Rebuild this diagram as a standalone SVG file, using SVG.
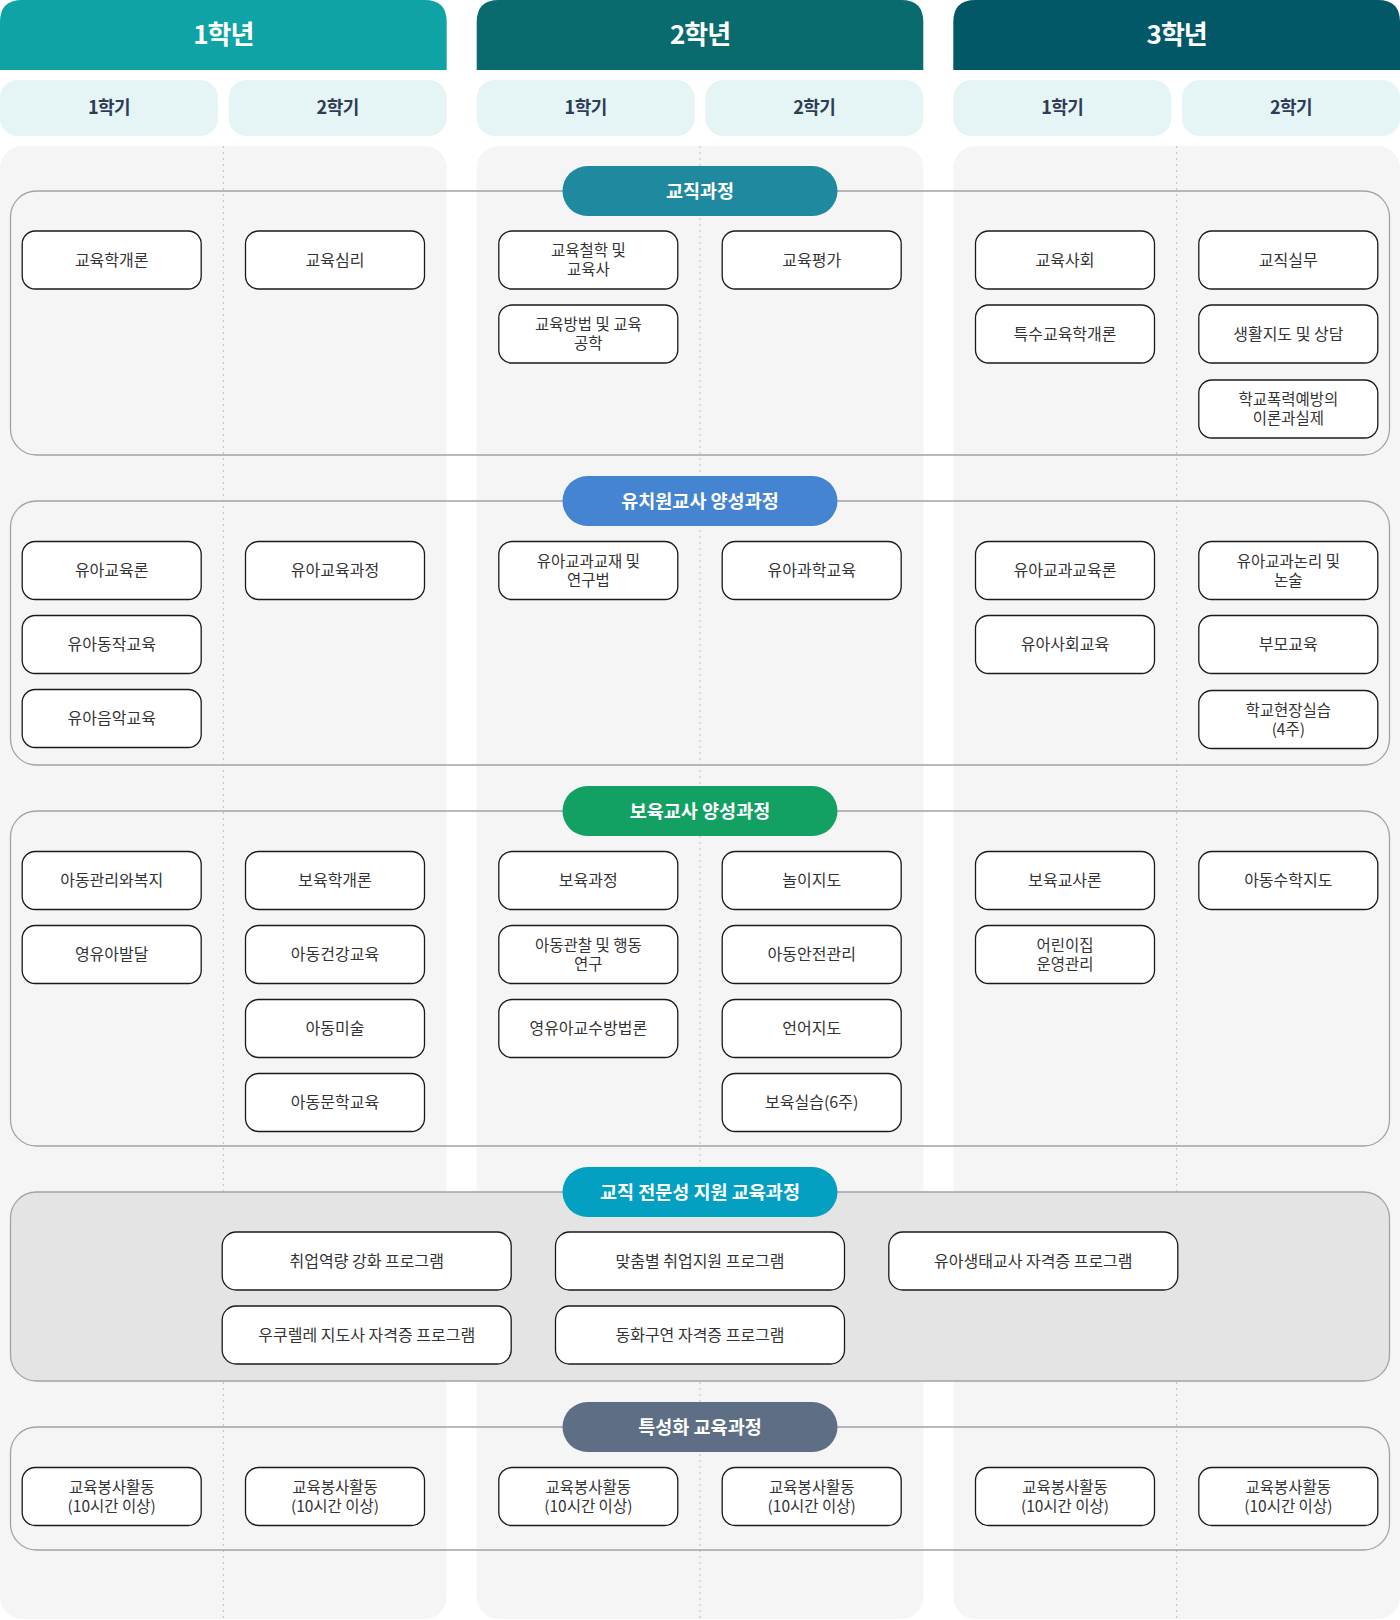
<svg xmlns="http://www.w3.org/2000/svg" width="1400" height="1620" viewBox="0 0 1400 1620">
<style>
text{font-family:"Noto Sans CJK KR","Noto Sans",sans-serif;}
.yt{font-size:26px;font-weight:700;fill:#fff;text-anchor:middle;letter-spacing:-1px}
.sem{fill:#e5f4f4}
.st{font-size:18px;font-weight:700;fill:#2e3b55;text-anchor:middle;letter-spacing:-0.5px}
.panel{fill:#f5f5f5}
.dl{stroke:#bdbdbd;stroke-width:1;stroke-dasharray:2 4;fill:none}
.sec{fill:none;stroke:#a3a3a3;stroke-width:1.3}
.pt{font-size:18.5px;font-weight:700;fill:#fff;text-anchor:middle}
.n rect{fill:#fff;stroke:#1a1a1a;stroke-width:1.3}
.n text{font-size:16px;fill:#333;text-anchor:middle}
.n text.t2{font-size:15.5px}
</style>
<rect width="1400" height="1620" fill="#fff"/>
<g id="headers">
<path d="M0 22 Q0 0 22 0 H424.7 Q446.7 0 446.7 22 V70 H0 Z" fill="#10a3a6"/>
<path d="M476.7 22 Q476.7 0 498.7 0 H901.3 Q923.3 0 923.3 22 V70 H476.7 Z" fill="#0a6b6e"/>
<path d="M953.3 22 Q953.3 0 975.3 0 H1378 Q1400 0 1400 22 V70 H953.3 Z" fill="#035868"/>
<text class="yt" x="223.3" y="44">1학년</text>
<text class="yt" x="700" y="44">2학년</text>
<text class="yt" x="1176.7" y="44">3학년</text>
<rect class="sem" x="0" y="80" width="218" height="56" rx="18"/>
<rect class="sem" x="228.7" y="80" width="218" height="56" rx="18"/>
<rect class="sem" x="476.7" y="80" width="218" height="56" rx="18"/>
<rect class="sem" x="705.3" y="80" width="218" height="56" rx="18"/>
<rect class="sem" x="953.3" y="80" width="218" height="56" rx="18"/>
<rect class="sem" x="1182" y="80" width="218" height="56" rx="18"/>
<text class="st" x="109" y="114">1학기</text>
<text class="st" x="337.7" y="114">2학기</text>
<text class="st" x="585.7" y="114">1학기</text>
<text class="st" x="814.3" y="114">2학기</text>
<text class="st" x="1062.3" y="114">1학기</text>
<text class="st" x="1291" y="114">2학기</text>
</g>
<g id="panels">
<rect class="panel" x="0" y="146" width="446.7" height="1473" rx="22"/>
<rect class="panel" x="476.7" y="146" width="446.6" height="1473" rx="22"/>
<rect class="panel" x="953.3" y="146" width="446.7" height="1473" rx="22"/>
<line class="dl" x1="223.3" y1="146" x2="223.3" y2="1620"/>
<line class="dl" x1="700" y1="146" x2="700" y2="1620"/>
<line class="dl" x1="1176.7" y1="146" x2="1176.7" y2="1620"/>
</g>
<g id="connectors">
<rect class="sec" x="10.5" y="191" width="1379" height="264" rx="26"/>
<rect class="sec" x="10.5" y="501" width="1379" height="264" rx="26"/>
<rect class="sec" x="10.5" y="811" width="1379" height="335" rx="26"/>
<rect class="sec" x="10.5" y="1192" width="1379" height="189" rx="26" style="fill:#e5e4e5"/>
<rect class="sec" x="10.5" y="1427" width="1379" height="123" rx="26"/>
</g>
<g id="sec-labels">
<g id="lbl1"><rect x="562.5" y="166" width="275" height="50" rx="25" fill="#1f8a9f"/><text class="pt" x="700" y="197.5">교직과정</text></g>
<g id="lbl2"><rect x="562.5" y="476" width="275" height="50" rx="25" fill="#4584d0"/><text class="pt" x="700" y="507.5">유치원교사 양성과정</text></g>
<g id="lbl3"><rect x="562.5" y="786" width="275" height="50" rx="25" fill="#12a162"/><text class="pt" x="700" y="817.5">보육교사 양성과정</text></g>
<g id="lbl4"><rect x="562.5" y="1167" width="275" height="50" rx="25" fill="#03a0c1"/><text class="pt" x="700" y="1198.5">교직 전문성 지원 교육과정</text></g>
<g id="lbl5"><rect x="562.5" y="1402" width="275" height="50" rx="25" fill="#5e6e84"/><text class="pt" x="700" y="1433.5">특성화 교육과정</text></g>
</g>
<!-- 교직과정 -->
<g id="n-edu-intro" class="n"><rect x="22.2" y="231" width="179" height="58" rx="13"/><text x="111.7" y="265.5">교육학개론</text></g>
<g id="n-edu-psy" class="n"><rect x="245.5" y="231" width="179" height="58" rx="13"/><text x="335" y="265.5">교육심리</text></g>
<g id="n-edu-phil" class="n"><rect x="498.8" y="231" width="179" height="58" rx="13"/><text class="t2" x="588.3" y="256">교육철학 및</text><text class="t2" x="588.3" y="275">교육사</text></g>
<g id="n-edu-method" class="n"><rect x="498.8" y="305" width="179" height="58" rx="13"/><text class="t2" x="588.3" y="330">교육방법 및 교육</text><text class="t2" x="588.3" y="349">공학</text></g>
<g id="n-edu-eval" class="n"><rect x="722.2" y="231" width="179" height="58" rx="13"/><text x="811.7" y="265.5">교육평가</text></g>
<g id="n-edu-soc" class="n"><rect x="975.5" y="231" width="179" height="58" rx="13"/><text x="1065" y="265.5">교육사회</text></g>
<g id="n-special" class="n"><rect x="975.5" y="305" width="179" height="58" rx="13"/><text x="1065" y="339.5">특수교육학개론</text></g>
<g id="n-practice" class="n"><rect x="1198.8" y="231" width="179" height="58" rx="13"/><text x="1288.3" y="265.5">교직실무</text></g>
<g id="n-guidance" class="n"><rect x="1198.8" y="305" width="179" height="58" rx="13"/><text x="1288.3" y="339.5">생활지도 및 상담</text></g>
<g id="n-violence" class="n"><rect x="1198.8" y="380" width="179" height="58" rx="13"/><text class="t2" x="1288.3" y="405">학교폭력예방의</text><text class="t2" x="1288.3" y="424">이론과실제</text></g>
<!-- 유치원교사 -->
<g id="n-ec-theory" class="n"><rect x="22.2" y="541.5" width="179" height="58" rx="13"/><text x="111.7" y="576">유아교육론</text></g>
<g id="n-ec-move" class="n"><rect x="22.2" y="615.5" width="179" height="58" rx="13"/><text x="111.7" y="650">유아동작교육</text></g>
<g id="n-ec-music" class="n"><rect x="22.2" y="689.5" width="179" height="58" rx="13"/><text x="111.7" y="724">유아음악교육</text></g>
<g id="n-ec-curr" class="n"><rect x="245.5" y="541.5" width="179" height="58" rx="13"/><text x="335" y="576">유아교육과정</text></g>
<g id="n-ec-material" class="n"><rect x="498.8" y="541.5" width="179" height="58" rx="13"/><text class="t2" x="588.3" y="566.5">유아교과교재 및</text><text class="t2" x="588.3" y="585.5">연구법</text></g>
<g id="n-ec-science" class="n"><rect x="722.2" y="541.5" width="179" height="58" rx="13"/><text x="811.7" y="576">유아과학교육</text></g>
<g id="n-ec-subject" class="n"><rect x="975.5" y="541.5" width="179" height="58" rx="13"/><text x="1065" y="576">유아교과교육론</text></g>
<g id="n-ec-social" class="n"><rect x="975.5" y="615.5" width="179" height="58" rx="13"/><text x="1065" y="650">유아사회교육</text></g>
<g id="n-ec-logic" class="n"><rect x="1198.8" y="541.5" width="179" height="58" rx="13"/><text class="t2" x="1288.3" y="566.5">유아교과논리 및</text><text class="t2" x="1288.3" y="585.5">논술</text></g>
<g id="n-ec-parent" class="n"><rect x="1198.8" y="615.5" width="179" height="58" rx="13"/><text x="1288.3" y="650">부모교육</text></g>
<g id="n-ec-field" class="n"><rect x="1198.8" y="690.5" width="179" height="58" rx="13"/><text class="t2" x="1288.3" y="715.5">학교현장실습</text><text class="t2" x="1288.3" y="734.5">(4주)</text></g>
<!-- 보육교사 -->
<g id="n-cc-welfare" class="n"><rect x="22.2" y="851.5" width="179" height="58" rx="13"/><text x="111.7" y="886">아동관리와복지</text></g>
<g id="n-cc-dev" class="n"><rect x="22.2" y="925.5" width="179" height="58" rx="13"/><text x="111.7" y="960">영유아발달</text></g>
<g id="n-cc-intro" class="n"><rect x="245.5" y="851.5" width="179" height="58" rx="13"/><text x="335" y="886">보육학개론</text></g>
<g id="n-cc-health" class="n"><rect x="245.5" y="925.5" width="179" height="58" rx="13"/><text x="335" y="960">아동건강교육</text></g>
<g id="n-cc-art" class="n"><rect x="245.5" y="999.5" width="179" height="58" rx="13"/><text x="335" y="1034">아동미술</text></g>
<g id="n-cc-lit" class="n"><rect x="245.5" y="1073.5" width="179" height="58" rx="13"/><text x="335" y="1108">아동문학교육</text></g>
<g id="n-cc-curr" class="n"><rect x="498.8" y="851.5" width="179" height="58" rx="13"/><text x="588.3" y="886">보육과정</text></g>
<g id="n-cc-observe" class="n"><rect x="498.8" y="925.5" width="179" height="58" rx="13"/><text class="t2" x="588.3" y="950.5">아동관찰 및 행동</text><text class="t2" x="588.3" y="969.5">연구</text></g>
<g id="n-cc-teach" class="n"><rect x="498.8" y="999.5" width="179" height="58" rx="13"/><text x="588.3" y="1034">영유아교수방법론</text></g>
<g id="n-cc-play" class="n"><rect x="722.2" y="851.5" width="179" height="58" rx="13"/><text x="811.7" y="886">놀이지도</text></g>
<g id="n-cc-safety" class="n"><rect x="722.2" y="925.5" width="179" height="58" rx="13"/><text x="811.7" y="960">아동안전관리</text></g>
<g id="n-cc-lang" class="n"><rect x="722.2" y="999.5" width="179" height="58" rx="13"/><text x="811.7" y="1034">언어지도</text></g>
<g id="n-cc-practice" class="n"><rect x="722.2" y="1073.5" width="179" height="58" rx="13"/><text x="811.7" y="1108">보육실습(6주)</text></g>
<g id="n-cc-teacher" class="n"><rect x="975.5" y="851.5" width="179" height="58" rx="13"/><text x="1065" y="886">보육교사론</text></g>
<g id="n-cc-admin" class="n"><rect x="975.5" y="925.5" width="179" height="58" rx="13"/><text class="t2" x="1065" y="950.5">어린이집</text><text class="t2" x="1065" y="969.5">운영관리</text></g>
<g id="n-cc-math" class="n"><rect x="1198.8" y="851.5" width="179" height="58" rx="13"/><text x="1288.3" y="886">아동수학지도</text></g>
<!-- 교직 전문성 -->
<g id="n-p-job" class="n"><rect x="222.2" y="1232" width="289" height="58" rx="14"/><text x="366.7" y="1266.5">취업역량 강화 프로그램</text></g>
<g id="n-p-custom" class="n"><rect x="555.5" y="1232" width="289" height="58" rx="14"/><text x="700" y="1266.5">맞춤별 취업지원 프로그램</text></g>
<g id="n-p-eco" class="n"><rect x="888.8" y="1232" width="289" height="58" rx="14"/><text x="1033.3" y="1266.5">유아생태교사 자격증 프로그램</text></g>
<g id="n-p-ukulele" class="n"><rect x="222.2" y="1306" width="289" height="58" rx="14"/><text x="366.7" y="1340.5">우쿠렐레 지도사 자격증 프로그램</text></g>
<g id="n-p-story" class="n"><rect x="555.5" y="1306" width="289" height="58" rx="14"/><text x="700" y="1340.5">동화구연 자격증 프로그램</text></g>
<!-- 특성화 -->
<g id="n-v1" class="n"><rect x="22.2" y="1467.5" width="179" height="58" rx="13"/><text class="t2" x="111.7" y="1492.5">교육봉사활동</text><text class="t2" x="111.7" y="1511.5">(10시간 이상)</text></g>
<g id="n-v2" class="n"><rect x="245.5" y="1467.5" width="179" height="58" rx="13"/><text class="t2" x="335" y="1492.5">교육봉사활동</text><text class="t2" x="335" y="1511.5">(10시간 이상)</text></g>
<g id="n-v3" class="n"><rect x="498.8" y="1467.5" width="179" height="58" rx="13"/><text class="t2" x="588.3" y="1492.5">교육봉사활동</text><text class="t2" x="588.3" y="1511.5">(10시간 이상)</text></g>
<g id="n-v4" class="n"><rect x="722.2" y="1467.5" width="179" height="58" rx="13"/><text class="t2" x="811.7" y="1492.5">교육봉사활동</text><text class="t2" x="811.7" y="1511.5">(10시간 이상)</text></g>
<g id="n-v5" class="n"><rect x="975.5" y="1467.5" width="179" height="58" rx="13"/><text class="t2" x="1065" y="1492.5">교육봉사활동</text><text class="t2" x="1065" y="1511.5">(10시간 이상)</text></g>
<g id="n-v6" class="n"><rect x="1198.8" y="1467.5" width="179" height="58" rx="13"/><text class="t2" x="1288.3" y="1492.5">교육봉사활동</text><text class="t2" x="1288.3" y="1511.5">(10시간 이상)</text></g>
</svg>
